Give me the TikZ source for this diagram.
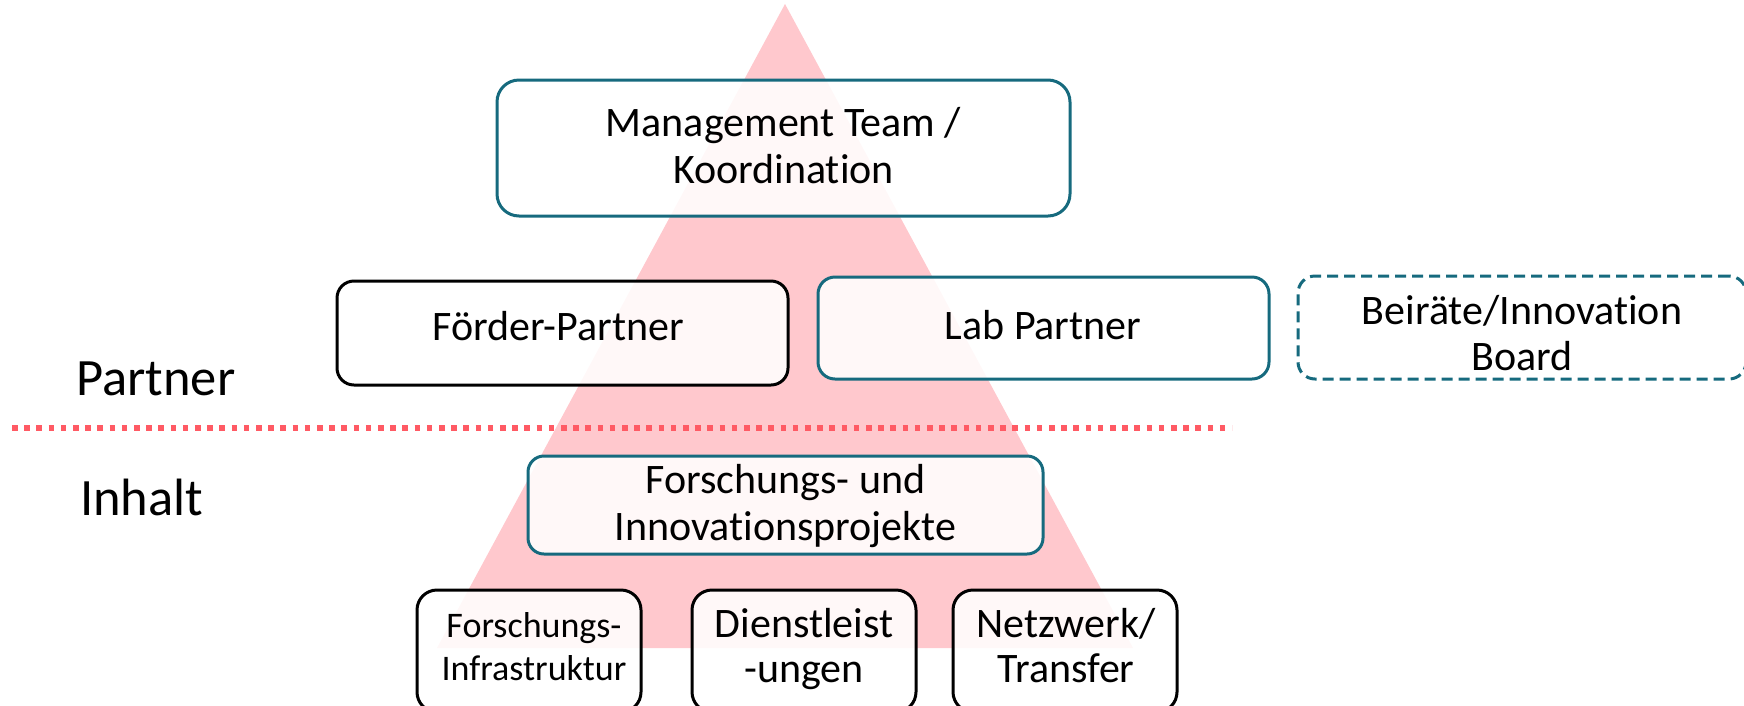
\documentclass[tikz,border=0pt]{standalone}
\usepackage{fontspec}
\setmainfont{Carlito}[Ligatures=NoCommon]
\definecolor{tealbd}{RGB}{22,106,126}
\definecolor{pinktri}{RGB}{255,200,205}
\definecolor{reddot}{RGB}{255,90,100}
\begin{document}
\begin{tikzpicture}[x=1pt,y=-1pt,
  box/.style={draw=tealbd, line width=3pt, fill=white, fill opacity=0.88, text opacity=1, inner sep=0pt, rectangle},
  blackbox/.style={box, draw=black},
  dashbox/.style={box, dash pattern=on 11pt off 6pt, fill opacity=0},
  txt/.style={font=\fontsize{42}{47}\selectfont, inner sep=0pt, anchor=base},
  smalltxt/.style={txt, font=\fontsize{36}{43}\selectfont},
  sidetxt/.style={font=\fontsize{52.5}{62}\selectfont, inner sep=0pt, anchor=base west},
  sep/.style={draw=reddot, line width=5.5pt, dash pattern=on 5.5pt off 6.7pt}]
\useasboundingbox (0,0) rectangle (1744,705);
\clip (0,0) rectangle (1744,705);
% pyramid
\coordinate (apex) at (785,4);
\coordinate (baseL) at (437,648);
\coordinate (baseR) at (1133,648);
\fill[pinktri] (apex) -- (baseL) -- (baseR) -- cycle;
% separator
\coordinate (sepL) at (12,428);
\coordinate (sepR) at (1232,428);
\draw[sep] (sepL) -- (sepR);
% side labels
\node[sidetxt] (partnerT) at (76,395) {Partner};
\node[sidetxt] (inhaltT) at (80,515) {Inhalt};
% boxes
\node[box, rounded corners=22pt, minimum width=573pt, minimum height=136pt] (mgmt) at (783.5,148) {};
\node[blackbox, rounded corners=17pt, minimum width=451pt, minimum height=104pt] (foerder) at (562.5,333) {};
\node[box, rounded corners=17pt, minimum width=451pt, minimum height=102pt] (lab) at (1043.5,328) {};
\node[dashbox, draw=tealbd, rounded corners=17pt, minimum width=448pt, minimum height=103pt] (beirat) at (1522,327.5) {};
\node[box, rounded corners=16pt, minimum width=515pt, minimum height=98pt] (fip) at (785.5,505) {};
\node[blackbox, rounded corners=20pt, minimum width=224pt, minimum height=122pt] (infra) at (529,651) {};
\node[blackbox, rounded corners=20pt, minimum width=224pt, minimum height=122pt] (dienst) at (804,651) {};
\node[blackbox, rounded corners=20pt, minimum width=224pt, minimum height=122pt] (netz) at (1065,651) {};
% texts
\node[txt] (mgmtA) at (783.5,136) {Management Team /};
\node[txt] (mgmtB) at (783.5,183) {Koordination};
\node[txt] (foerderT) at (558,340) {Förder-Partner};
\node[txt] (labT) at (1043,339) {Lab Partner};
\node[txt] (beiratA) at (1522,324) {Beiräte/Innovation};
\node[txt] (beiratB) at (1522,370) {Board};
\node[txt] (fipA) at (785.5,493) {Forschungs- und};
\node[txt] (fipB) at (785.5,540) {Innovationsprojekte};
\node[smalltxt] (infraA) at (534,637) {Forschungs-};
\node[smalltxt] (infraB) at (534,680) {Infrastruktur};
\node[txt] (dienstA) at (804,637) {Dienstleist};
\node[txt] (dienstB) at (804,682) {-ungen};
\node[txt] (netzA) at (1066,637) {Netzwerk/};
\node[txt] (netzB) at (1066,682) {Transfer};
\end{tikzpicture}
\end{document}
